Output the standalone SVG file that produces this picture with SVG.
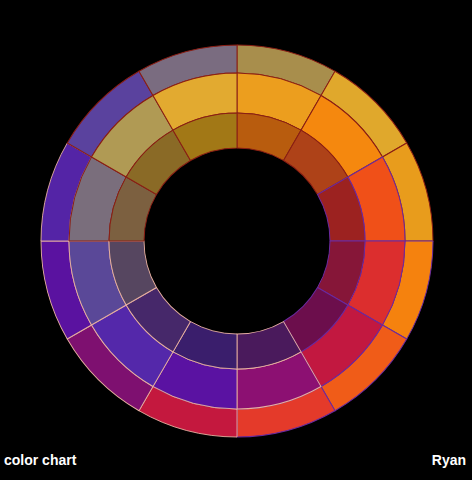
<svg xmlns="http://www.w3.org/2000/svg" xmlns:xlink="http://www.w3.org/1999/xlink" width="472" height="480" viewBox="0 0 472 480">
<style>
.lbl{font-family:"Liberation Sans",Arial,sans-serif;font-size:14px;font-weight:bold;fill:#ffffff}
.w{stroke:#8a1e14;stroke-width:1}
.r{stroke:#6a2aa0;stroke-width:1}
.p{stroke:#e8b0a0;stroke-width:0.9}
</style>
<defs>
<path id="so" d="M0,-196 A196,196 0 0 1 98,-169.74 L84,-145.49 A168,168 0 0 0 0,-168 Z"/>
<path id="sm" d="M0,-168 A168,168 0 0 1 84,-145.49 L64,-110.85 A128,128 0 0 0 0,-128 Z"/>
<path id="si" d="M0,-128 A128,128 0 0 1 64,-110.85 L46.5,-80.54 A93,93 0 0 0 0,-93 Z"/>
</defs>
<rect width="472" height="480" fill="#000000"/>
<g id="wheel" transform="translate(237,241)">
<g id="outer-ring">
<use xlink:href="#so" href="#so" class="w" fill="#a88e4c" transform="rotate(0)"/>
<use xlink:href="#so" href="#so" class="w" fill="#e0a82c" transform="rotate(30)"/>
<use xlink:href="#so" href="#so" class="w" fill="#e89c1c" transform="rotate(60)"/>
<use xlink:href="#so" href="#so" class="r" fill="#f5820e" transform="rotate(90)"/>
<use xlink:href="#so" href="#so" class="r" fill="#f05c18" transform="rotate(120)"/>
<use xlink:href="#so" href="#so" class="r" fill="#e43a2a" transform="rotate(150)"/>
<use xlink:href="#so" href="#so" class="p" fill="#c4183e" transform="rotate(180)"/>
<use xlink:href="#so" href="#so" class="p" fill="#7e1070" transform="rotate(210)"/>
<use xlink:href="#so" href="#so" class="p" fill="#5a12a0" transform="rotate(240)"/>
<use xlink:href="#so" href="#so" class="p" fill="#5424a6" transform="rotate(270)"/>
<use xlink:href="#so" href="#so" class="w" fill="#5a429e" transform="rotate(300)"/>
<use xlink:href="#so" href="#so" class="w" fill="#7a6c80" transform="rotate(330)"/>
</g>
<g id="middle-ring">
<use xlink:href="#sm" href="#sm" class="w" fill="#ec9e1e" transform="rotate(0)"/>
<use xlink:href="#sm" href="#sm" class="w" fill="#f5880e" transform="rotate(30)"/>
<use xlink:href="#sm" href="#sm" class="r" fill="#f05018" transform="rotate(60)"/>
<use xlink:href="#sm" href="#sm" class="r" fill="#dc2e2e" transform="rotate(90)"/>
<use xlink:href="#sm" href="#sm" class="r" fill="#c21840" transform="rotate(120)"/>
<use xlink:href="#sm" href="#sm" class="p" fill="#8c1072" transform="rotate(150)"/>
<use xlink:href="#sm" href="#sm" class="p" fill="#5a12a2" transform="rotate(180)"/>
<use xlink:href="#sm" href="#sm" class="p" fill="#5428aa" transform="rotate(210)"/>
<use xlink:href="#sm" href="#sm" class="p" fill="#5a4898" transform="rotate(240)"/>
<use xlink:href="#sm" href="#sm" class="w" fill="#7a6e7c" transform="rotate(270)"/>
<use xlink:href="#sm" href="#sm" class="w" fill="#b09a54" transform="rotate(300)"/>
<use xlink:href="#sm" href="#sm" class="w" fill="#e2aa30" transform="rotate(330)"/>
</g>
<g id="inner-ring">
<use xlink:href="#si" href="#si" class="w" fill="#b85c0e" transform="rotate(0)"/>
<use xlink:href="#si" href="#si" class="w" fill="#ae4218" transform="rotate(30)"/>
<use xlink:href="#si" href="#si" class="r" fill="#9c2220" transform="rotate(60)"/>
<use xlink:href="#si" href="#si" class="r" fill="#861638" transform="rotate(90)"/>
<use xlink:href="#si" href="#si" class="r" fill="#6c0e4c" transform="rotate(120)"/>
<use xlink:href="#si" href="#si" class="p" fill="#4a1a5c" transform="rotate(150)"/>
<use xlink:href="#si" href="#si" class="p" fill="#3a1e6c" transform="rotate(180)"/>
<use xlink:href="#si" href="#si" class="p" fill="#46286a" transform="rotate(210)"/>
<use xlink:href="#si" href="#si" class="p" fill="#564660" transform="rotate(240)"/>
<use xlink:href="#si" href="#si" class="w" fill="#7c6040" transform="rotate(270)"/>
<use xlink:href="#si" href="#si" class="w" fill="#8a6a26" transform="rotate(300)"/>
<use xlink:href="#si" href="#si" class="w" fill="#a27816" transform="rotate(330)"/>
</g>
</g>
<text class="lbl" x="4" y="465">color chart</text>
<text class="lbl" x="466" y="465" text-anchor="end">Ryan</text>
</svg>
